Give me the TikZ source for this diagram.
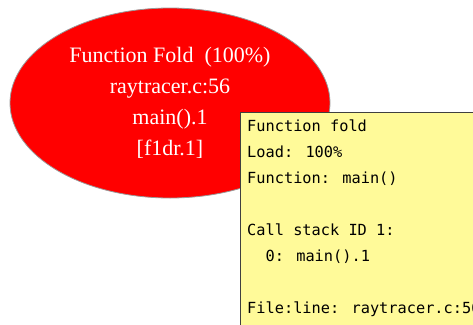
\documentclass[tikz,border=0pt]{standalone}
\usepackage{fontspec}
\setmainfont{Liberation Serif}
\newfontfamily\tipfont{DejaVu Sans Mono}
\usetikzlibrary{shapes.geometric, positioning}

\tikzset{
    funcnode/.style={ellipse, draw=gray!80, fill=red, text=white, line width=0.8pt,
        minimum width=320pt, minimum height=190pt, align=center,
        font=\fontsize{22}{31}\selectfont},
    tipbox/.style={rectangle, draw=black!75, fill=yellow!40, line width=1.4pt,
        minimum width=280pt, minimum height=260pt, anchor=north west, inner sep=0pt},
    tiptext/.style={align=left, anchor=north west, inner sep=0pt,
        font=\tipfont\fontsize{15.3}{26}\selectfont}
}

\begin{document}
\begin{tikzpicture}[x=1pt, y=-1pt]
    \useasboundingbox (0,0) rectangle (473,324);
    \clip (0,0) rectangle (473,324);

    % Function node
    \node[funcnode] (fold) at (170,103) {Function Fold\ \ (100\%)\\raytracer.c:56\\main().1\\{[f1dr.1]}};

    % Tooltip
    \node[tipbox] (tip) at (240,112) {};
    \node[tiptext] (tiptxt) at (247,120) {Function fold\\Load: 100\%\\Function: main()\\\mbox{}\\Call stack ID 1:\\\ \ 0: main().1\\\mbox{}\\File:line: raytracer.c:56};

\end{tikzpicture}
\end{document}
